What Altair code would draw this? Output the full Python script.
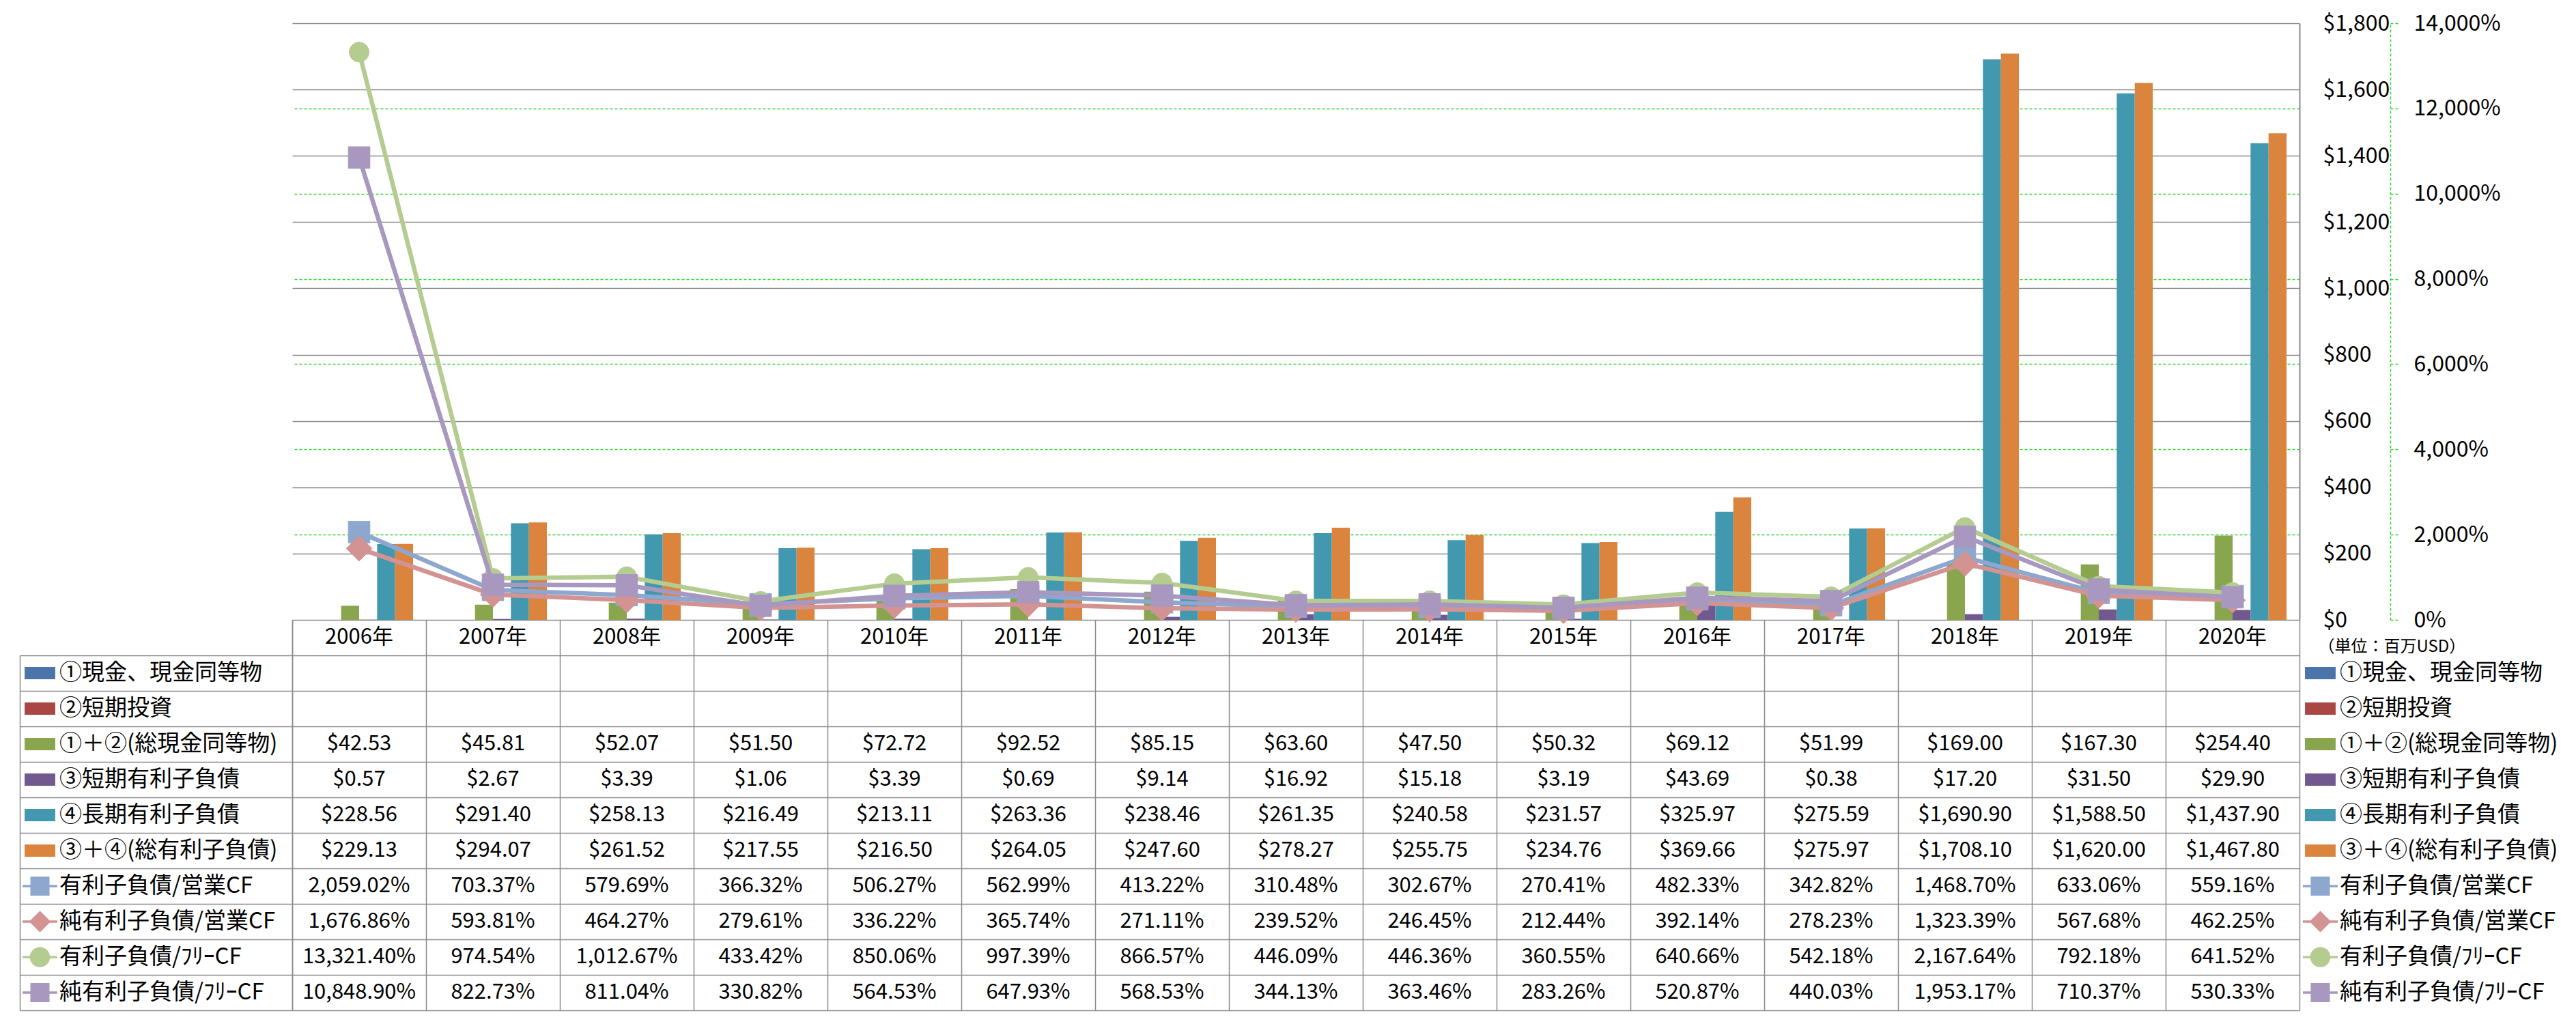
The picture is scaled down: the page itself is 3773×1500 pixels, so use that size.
import altair as alt
import pandas as pd

FONT = "Noto Sans CJK JP"

# ---------------- data ----------------
years = ["2006年", "2007年", "2008年", "2009年", "2010年", "2011年", "2012年", "2013年",
         "2014年", "2015年", "2016年", "2017年", "2018年", "2019年", "2020年"]

bar_series = ["①現金、現金同等物", "②短期投資", "①＋②(総現金同等物)",
              "③短期有利子負債", "④長期有利子負債", "③＋④(総有利子負債)"]
line_series = ["有利子負債/営業CF", "純有利子負債/営業CF", "有利子負債/ﾌﾘｰCF", "純有利子負債/ﾌﾘｰCF"]

cash_eq = [None, None, None, None, None, None, None, None, None, None, None, None, None, None, None]
short_inv = [None, None, None, None, None, None, None, None, None, None, None, None, None, None, None]
total_cash = [42.53, 45.81, 52.07, 51.50, 72.72, 92.52, 85.15, 63.60, 47.50, 50.32, 69.12, 51.99,
              169.00, 167.30, 254.40]
short_debt = [0.57, 2.67, 3.39, 1.06, 3.39, 0.69, 9.14, 16.92, 15.18, 3.19, 43.69, 0.38, 17.20, 31.50, 29.90]
long_debt = [228.56, 291.40, 258.13, 216.49, 213.11, 263.36, 238.46, 261.35, 240.58, 231.57, 325.97,
             275.59, 1690.90, 1588.50, 1437.90]
total_debt = [229.13, 294.07, 261.52, 217.55, 216.50, 264.05, 247.60, 278.27, 255.75, 234.76, 369.66,
              275.97, 1708.10, 1620.00, 1467.80]

debt_ocf = [2059.02, 703.37, 579.69, 366.32, 506.27, 562.99, 413.22, 310.48, 302.67, 270.41, 482.33,
            342.82, 1468.70, 633.06, 559.16]
netdebt_ocf = [1676.86, 593.81, 464.27, 279.61, 336.22, 365.74, 271.11, 239.52, 246.45, 212.44, 392.14,
               278.23, 1323.39, 567.68, 462.25]
debt_fcf = [13321.40, 974.54, 1012.67, 433.42, 850.06, 997.39, 866.57, 446.09, 446.36, 360.55, 640.66,
            542.18, 2167.64, 792.18, 641.52]
netdebt_fcf = [10848.90, 822.73, 811.04, 330.82, 564.53, 647.93, 568.53, 344.13, 363.46, 283.26, 520.87,
               440.03, 1953.17, 710.37, 530.33]

dollar_ticks = [0, 200, 400, 600, 800, 1000, 1200, 1400, 1600, 1800]
pct_ticks = [0, 2000, 4000, 6000, 8000, 10000, 12000, 14000]

bar_values = [cash_eq, short_inv, total_cash, short_debt, long_debt, total_debt]
line_values = [debt_ocf, netdebt_ocf, debt_fcf, netdebt_fcf]

# ---------------- styles ----------------
bar_colors = ["#4A74AA", "#AA4643", "#89A54E", "#71588F", "#4198AF", "#DB843D"]
line_colors = ["#8EA7CF", "#D39393", "#B5CC91", "#A898BF"]
marker_shapes = ["square", "diamond", "circle", "square"]
marker_sizes = [1000, 1400, 850, 1000]

LINE_P = "M-1,-0.07H1V0.07H-1Z"
legend_paths = (["M-0.88,-0.35H0.88V0.35H-0.88Z"] * 6 + [
    LINE_P + " M-0.55,-0.55H0.55V0.55H-0.55Z",
    LINE_P + " M0,-0.62L0.62,0L0,0.62L-0.62,0Z",
    LINE_P + " M-0.58,0A0.58,0.58 0 1,1 0.58,0A0.58,0.58 0 1,1 -0.58,0Z",
    LINE_P + " M-0.55,-0.55H0.55V0.55H-0.55Z",
])

GRAY = "#8a8a8a"
GREEN = "#2fd82f"

all_series = bar_series + line_series
all_colors = bar_colors + line_colors
rows_all = ["header"] + all_series

TOP_PAD = 26          # plot top sits at page y = 8 + TOP_PAD
W, H = 2940, 874
ROW_H = 52
TABLE_TOP = H
TABLE_BOTTOM = H + ROW_H * 11

# ---------------- tables ----------------
bar_rows = []
for s, vals in zip(bar_series, bar_values):
    for y, v in zip(years, vals):
        if v is not None:
            bar_rows.append({"year": y, "series": s, "value": v})
bar_df = pd.DataFrame(bar_rows)

line_rows = []
for s, vals in zip(line_series, line_values):
    for y, v in zip(years, vals):
        line_rows.append({"year": y, "series": s, "value": v})
line_df = pd.DataFrame(line_rows)

tab_rows = [{"year": y, "row": "header", "text": y} for y in years]
for s, vals in zip(bar_series, bar_values):
    for y, v in zip(years, vals):
        tab_rows.append({"year": y, "row": s, "text": "" if v is None else f"${v:,.2f}"})
for s, vals in zip(line_series, line_values):
    for y, v in zip(years, vals):
        tab_rows.append({"year": y, "row": s, "text": f"{v:,.2f}%"})
table_df = pd.DataFrame(tab_rows)

legend_df = pd.DataFrame({"series": all_series, "row": all_series})

# ---------------- scales / axes ----------------
xscale = alt.Scale(domain=years, paddingInner=0, paddingOuter=0)
x_axis = alt.Axis(orient="bottom", tickBand="extent", ticks=True, tickSize=TABLE_BOTTOM - TABLE_TOP,
                  tickColor=GRAY, tickWidth=1.5, domain=False, labels=False, grid=False, title=None)

dollar_axis = alt.Axis(orient="right", values=dollar_ticks, format="$,.0f", title=None,
                       labelFont=FONT, labelFontSize=32, labelColor="black", labelPadding=34,
                       labelAlign="left", labelFlush=False, labelOverlap=False,
                       ticks=False, domain=True, domainColor=GRAY, domainWidth=2,
                       grid=True, gridColor=GRAY, gridWidth=1.5)

pct_axis = alt.Axis(orient="right", offset=133, values=pct_ticks,
                    labelExpr="format(datum.value, ',') + '%'",
                    title="（単位：百万USD）", titleAngle=0, titleX=-106, titleY=TABLE_TOP + 39,
                    titleAlign="left", titleBaseline="middle", titleFont=FONT, titleFontSize=24,
                    titleFontWeight="normal", titleColor="black",
                    labelFont=FONT, labelFontSize=32, labelColor="black", labelPadding=22,
                    labelAlign="left", labelFlush=False, labelOverlap=False,
                    ticks=True, tickSize=12, tickColor=GREEN, tickDash=[4, 3], tickWidth=1.5,
                    domain=True, domainColor=GREEN, domainDash=[4, 3], domainWidth=1.5,
                    grid=True, gridColor=GREEN, gridDash=[4, 3], gridWidth=1.5,
                    gridOpacity={"condition": {"test": "datum.value === 0 || datum.value === 14000",
                                               "value": 0}, "value": 1})

row_axis = alt.Axis(orient="left", values=all_series, tickBand="extent", ticks=True, tickSize=399,
                    tickColor=GRAY, tickWidth=1.5, labels=False, domain=True, domainColor=GRAY,
                    domainWidth=1.5, grid=True, gridColor=GRAY, gridWidth=1.5, title=None)
row_axis2 = alt.Axis(orient="left", offset=399, ticks=False, labels=False, grid=False, domain=True,
                     domainColor=GRAY, domainWidth=1.5, title=None)


def make_legend(lx):
    return alt.Legend(orient="none", legendX=lx, legendY=TABLE_TOP + ROW_H, title=None, padding=0,
                      labelFont=FONT, labelFontSize=33, labelColor="black", labelLimit=1000,
                      labelOffset=3, symbolSize=2601, symbolStrokeWidth=0, rowPadding=0,
                      clipHeight=ROW_H, symbolOpacity=1)


# ---------------- layers ----------------
bars = alt.Chart(bar_df).mark_bar().encode(
    x=alt.X("year:N", scale=xscale, axis=x_axis),
    xOffset=alt.XOffset("series:N", scale=alt.Scale(domain=bar_series, paddingInner=0, paddingOuter=0.72)),
    y=alt.Y("value:Q", scale=alt.Scale(domain=[0, 1800]), axis=dollar_axis),
    color=alt.Color("series:N", scale=alt.Scale(domain=bar_series, range=bar_colors), legend=None),
)

pairs = []
for s, col, shp, sz in zip(line_series, line_colors, marker_shapes, marker_sizes):
    base = alt.Chart(line_df).transform_filter(alt.datum.series == s)
    enc = dict(
        x=alt.X("year:N", scale=xscale, axis=x_axis, bandPosition=0.5),
        y=alt.Y("value:Q", scale=alt.Scale(domain=[0, 14000]), axis=pct_axis),
    )
    pairs.append(base.mark_line(color=col, strokeWidth=6.5).encode(**enc))
    pairs.append(base.mark_point(filled=True, opacity=1, color=col, shape=shp, size=sz,
                                 stroke=col, strokeWidth=1).encode(**enc))
lines = alt.layer(*pairs)

table = alt.Chart(table_df).mark_text(font=FONT, fontSize=31, color="black",
                                      align="center", baseline="middle").encode(
    x=alt.X("year:N", scale=xscale, axis=x_axis, bandPosition=0.5),
    y=alt.Y("row:N", scale=alt.Scale(domain=rows_all, range=[TABLE_TOP, TABLE_BOTTOM],
                                     paddingInner=0, paddingOuter=0),
            axis=row_axis, bandPosition=0.5),
    text="text:N",
)

leg_left = alt.Chart(legend_df).transform_filter("false").mark_point(
    filled=True, opacity=1, size=2601).encode(
    y=alt.Y("row:N", scale=alt.Scale(domain=all_series, range=[TABLE_TOP + ROW_H, TABLE_BOTTOM],
                                     paddingInner=0, paddingOuter=0), axis=row_axis2),
    color=alt.Color("series:N", scale=alt.Scale(domain=all_series, range=all_colors),
                    legend=make_legend(-395)),
    shape=alt.Shape("series:N", scale=alt.Scale(domain=all_series, range=legend_paths),
                    legend=make_legend(-395)),
)

leg_right = alt.Chart(legend_df).transform_filter("false").mark_point(
    filled=True, opacity=1, size=2601).encode(
    color=alt.Color("series:N", scale=alt.Scale(domain=all_series, range=all_colors),
                    legend=make_legend(2945)),
    shape=alt.Shape("series:N", scale=alt.Scale(domain=all_series, range=legend_paths),
                    legend=make_legend(2945)),
)

chart = alt.layer(bars, lines, table, leg_left, leg_right).resolve_scale(
    y="independent", color="independent", shape="independent"
).properties(
    width=W, height=H,
    padding={"left": 420, "top": TOP_PAD, "right": 397, "bottom": 576},
    autosize=alt.AutoSizeParams(type="none"),
).configure(font=FONT, background="white").configure_view(stroke=None)

chart.save("out.html", embed_options={"renderer": "svg", "actions": False})
